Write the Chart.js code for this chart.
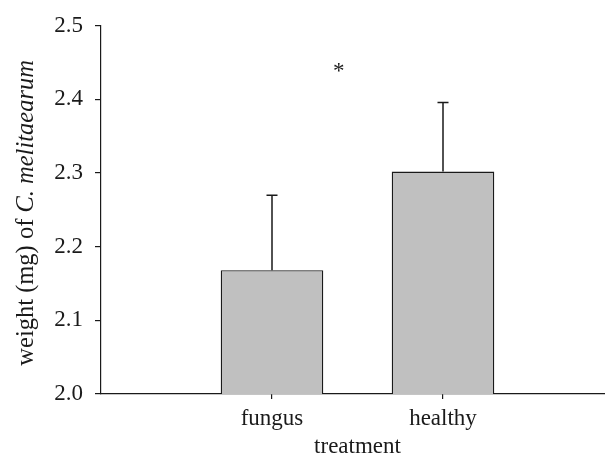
<!DOCTYPE html>
<html><head><meta charset="utf-8">
<script src="https://cdn.jsdelivr.net/npm/chart.js@4/dist/chart.umd.min.js"></script>
<style>
html,body{margin:0;padding:0;background:#fff;overflow:hidden}
#wrap{width:620px;height:461px;position:relative}
</style>
</head><body>
<div id="wrap"><canvas id="c"></canvas></div>
<script>
// ---- data ----
const categories = ['', 'fungus', 'healthy', ''];
const meanWeight = [null, 2.168, 2.302, null];
const errorUpper = [null, 2.270, 2.396, null];
const yTickValues = [2.0, 2.1, 2.2, 2.3, 2.4, 2.5];
const xTitle = 'treatment';
const yTitleParts = [['weight (mg) of ', 'normal'], ['C. melitaearum', 'italic']];
const marker = {text: '*', x: 1.39, y: 2.443};

const FONT = "'Liberation Serif', 'Times New Roman', serif";
const FS = 23;
const YT_FS = 24.5;
const INK = '#1a1a1a';

const errorBars = {
  id: 'errorBars',
  afterDatasetsDraw(chart) {
    const {ctx, scales: {y}} = chart;
    const meta = chart.getDatasetMeta(0);
    ctx.save();
    ctx.strokeStyle = INK;
    ctx.lineWidth = 1.5;
    errorUpper.forEach((v, i) => {
      if (v == null || meanWeight[i] == null) return;
      const x = meta.data[i].x;
      const yTop = y.getPixelForValue(v);
      const yBar = y.getPixelForValue(meanWeight[i]);
      ctx.beginPath();
      ctx.moveTo(x, yBar);
      ctx.lineTo(x, yTop);
      ctx.moveTo(x - 5.5, yTop);
      ctx.lineTo(x + 5.5, yTop);
      ctx.stroke();
    });
    // significance marker
    const px = chart.scales.x.getPixelForValue(marker.x);
    const py = y.getPixelForValue(marker.y);
    ctx.font = `${FS}px ${FONT}`;
    ctx.fillStyle = INK;
    ctx.textAlign = 'center';
    ctx.textBaseline = 'alphabetic';
    const m = ctx.measureText(marker.text);
    const off = (m.actualBoundingBoxAscent - m.actualBoundingBoxDescent) / 2;
    ctx.fillText(marker.text, px, py + off);
    ctx.restore();
  }
};

const yTitlePlugin = {
  id: 'yTitle',
  afterDraw(chart) {
    const {ctx, chartArea} = chart;
    ctx.save();
    const cy = (chartArea.top + chartArea.bottom) / 2 + 3;
    ctx.translate(27, cy);
    ctx.rotate(-Math.PI / 2);
    ctx.fillStyle = INK;
    ctx.textBaseline = 'middle';
    ctx.textAlign = 'left';
    let total = 0;
    const widths = yTitleParts.map(([t, st]) => {
      ctx.font = `${st} ${YT_FS}px ${FONT}`;
      const w = ctx.measureText(t).width;
      total += w;
      return w;
    });
    let x = -total / 2;
    yTitleParts.forEach(([t, st], i) => {
      ctx.font = `${st} ${YT_FS}px ${FONT}`;
      ctx.fillText(t, x, 0);
      x += widths[i];
    });
    ctx.restore();
  }
};

new Chart(document.getElementById('c'), {
  type: 'bar',
  data: {
    labels: categories,
    datasets: [{
      data: meanWeight,
      backgroundColor: '#c0c0c0',
      borderColor: INK,
      borderWidth: 1.3,
      barPercentage: 0.6,
      categoryPercentage: 1.0
    }]
  },
  options: {
    responsive: true,
    maintainAspectRatio: false,
    animation: false,
    layout: {padding: {left: 0, right: 4.5, top: 24, bottom: 0}},
    plugins: {legend: {display: false}, tooltip: {enabled: false}},
    scales: {
      x: {
        offset: false,
        grid: {
          offset: false,
          drawOnChartArea: false,
          drawTicks: true,
          tickLength: 5,
          lineWidth: 1.2,
          color: ctx => (ctx.index === 1 || ctx.index === 2) ? INK : 'rgba(0,0,0,0)'
        },
        border: {display: true, color: INK, width: 1.2},
        ticks: {color: INK, padding: 6, font: {family: FONT, size: FS}, maxRotation: 0, autoSkip: false},
        title: {display: true, text: xTitle, color: INK, font: {family: FONT, size: FS}, padding: {top: 0, bottom: 0}},
        afterFit(scale) { scale.height = 67; }
      },
      y: {
        min: 2.0,
        max: 2.5,
        afterBuildTicks(scale) { scale.ticks = yTickValues.map(v => ({value: v})); },
        grid: {drawOnChartArea: false, drawTicks: true, tickLength: 6, color: INK, lineWidth: 1.2},
        border: {display: true, color: INK, width: 1.2},
        ticks: {color: INK, padding: 12, font: {family: FONT, size: FS}, callback: v => Number(v).toFixed(1)},
        afterFit(scale) { scale.width = 101; }
      }
    }
  },
  plugins: [errorBars, yTitlePlugin]
});
</script>
</body></html>
